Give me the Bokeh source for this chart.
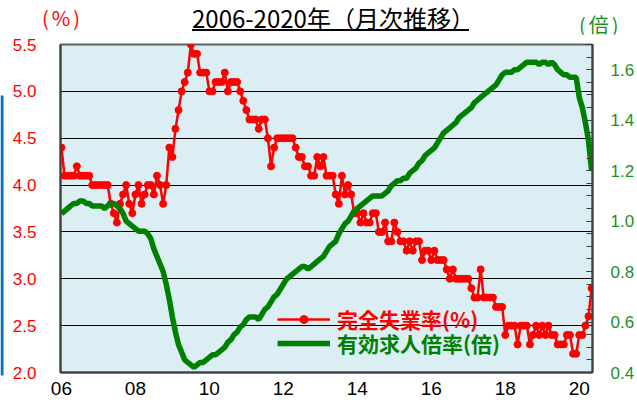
from bokeh.plotting import figure
from bokeh.models import (Range1d, LinearAxis, FixedTicker, BoxAnnotation,
                          Legend, LegendItem, NumeralTickFormatter, Div)
from bokeh.layouts import column, row
from bokeh.embed import file_html
from bokeh.resources import INLINE

FONT = "Noto Sans CJK JP"

# ---- data: monthly, Jan 2006 .. May 2020 ----
unemployment_rate = [
    4.4, 4.1, 4.1, 4.1, 4.1, 4.2, 4.1, 4.1, 4.1, 4.1, 4.0, 4.0,   # 2006
    4.0, 4.0, 4.0, 4.0, 3.8, 3.7, 3.6, 3.8, 3.9, 4.0, 3.8, 3.7,   # 2007
    3.9, 4.0, 3.8, 3.9, 4.0, 4.0, 3.9, 4.1, 4.0, 3.8, 4.0, 4.4,   # 2008
    4.3, 4.6, 4.8, 5.0, 5.1, 5.2, 5.5, 5.4, 5.4, 5.2, 5.2, 5.2,   # 2009
    5.0, 5.0, 5.1, 5.1, 5.1, 5.2, 5.0, 5.1, 5.1, 5.1, 5.0, 4.9,   # 2010
    4.8, 4.7, 4.7, 4.7, 4.6, 4.7, 4.7, 4.5, 4.2, 4.4, 4.5, 4.5,   # 2011
    4.5, 4.5, 4.5, 4.5, 4.4, 4.3, 4.3, 4.2, 4.2, 4.1, 4.1, 4.3,   # 2012
    4.2, 4.3, 4.1, 4.1, 4.1, 3.9, 3.8, 4.1, 3.9, 4.0, 3.9, 3.7,   # 2013
    3.7, 3.6, 3.7, 3.6, 3.6, 3.7, 3.7, 3.5, 3.5, 3.6, 3.4, 3.4,   # 2014
    3.6, 3.5, 3.4, 3.4, 3.3, 3.4, 3.3, 3.4, 3.4, 3.2, 3.3, 3.3,   # 2015
    3.2, 3.3, 3.2, 3.2, 3.2, 3.1, 3.0, 3.1, 3.0, 3.0, 3.0, 3.0,   # 2016
    3.0, 2.9, 2.8, 2.8, 3.1, 2.8, 2.8, 2.8, 2.8, 2.7, 2.7, 2.7,   # 2017
    2.4, 2.5, 2.5, 2.5, 2.3, 2.5, 2.5, 2.5, 2.3, 2.4, 2.5, 2.4,   # 2018
    2.5, 2.4, 2.5, 2.4, 2.4, 2.3, 2.3, 2.3, 2.4, 2.4, 2.2, 2.2,   # 2019
    2.4, 2.4, 2.5, 2.6, 2.9,                                      # 2020
]

job_ratio = [
    1.03, 1.04, 1.05, 1.06, 1.07, 1.07, 1.08, 1.08, 1.07, 1.07, 1.06, 1.06,  # 2006
    1.06, 1.06, 1.05, 1.06, 1.07, 1.07, 1.06, 1.05, 1.03, 1.00, 0.99, 0.98,  # 2007
    0.97, 0.96, 0.96, 0.96, 0.95, 0.93, 0.89, 0.86, 0.83, 0.80, 0.75, 0.69,  # 2008
    0.62, 0.56, 0.51, 0.48, 0.45, 0.44, 0.43, 0.42, 0.43, 0.44, 0.44, 0.45,  # 2009
    0.46, 0.47, 0.47, 0.48, 0.49, 0.50, 0.52, 0.53, 0.55, 0.56, 0.58, 0.59,  # 2010
    0.61, 0.62, 0.62, 0.62, 0.61, 0.63, 0.65, 0.66, 0.68, 0.70, 0.71, 0.73,  # 2011
    0.75, 0.77, 0.78, 0.79, 0.80, 0.81, 0.82, 0.82, 0.81, 0.82, 0.83, 0.84,  # 2012
    0.85, 0.86, 0.88, 0.90, 0.91, 0.92, 0.95, 0.97, 0.99, 1.00, 1.02, 1.04,  # 2013
    1.05, 1.06, 1.07, 1.08, 1.09, 1.10, 1.10, 1.10, 1.10, 1.11, 1.12, 1.14,  # 2014
    1.15, 1.16, 1.16, 1.17, 1.17, 1.19, 1.20, 1.21, 1.23, 1.24, 1.26, 1.27,  # 2015
    1.28, 1.29, 1.31, 1.33, 1.35, 1.36, 1.37, 1.38, 1.39, 1.41, 1.42, 1.43,  # 2016
    1.44, 1.45, 1.47, 1.48, 1.49, 1.50, 1.51, 1.52, 1.53, 1.54, 1.56, 1.58,  # 2017
    1.59, 1.59, 1.59, 1.60, 1.60, 1.61, 1.62, 1.63, 1.63, 1.63, 1.63, 1.62,  # 2018
    1.63, 1.63, 1.62, 1.63, 1.62, 1.60, 1.59, 1.58, 1.58, 1.57, 1.57, 1.57,  # 2019
    1.49, 1.45, 1.39, 1.32, 1.20,                                            # 2020
]

months = list(range(len(unemployment_rate)))

x_tick_positions = [0, 24, 48, 72, 96, 120, 144, 168]
x_tick_labels = ["06", "08", "10", "12", "14", "16", "18", "20"]
left_ticks = [2.0, 2.5, 3.0, 3.5, 4.0, 4.5, 5.0, 5.5]
right_ticks = [0.4, 0.6, 0.8, 1.0, 1.2, 1.4, 1.6]
right_minor_ticks = [round(0.4 + 0.05 * i, 2) for i in range(27)]

title_text = "2006-2020年（月次推移）"
unemp_unit = "(%)"
ratio_unit = "(倍)"
unemp_label = "完全失業率(%)"
ratio_label = "有効求人倍率(倍)"

RED = "#FF0000"
GREEN = "#008000"
GREEN_TXT = "#1F8F1F"

# ---- left edge strip (blue bar) ----
strip = figure(width=4, height=403, output_backend="svg", toolbar_location=None,
               x_range=Range1d(0, 4), y_range=Range1d(403, 0),
               x_axis_type=None, y_axis_type=None,
               min_border=0, min_border_left=0, min_border_right=0,
               min_border_top=0, min_border_bottom=0)
strip.xgrid.visible = False
strip.ygrid.visible = False
strip.outline_line_color = None
strip.background_fill_color = "white"
strip.add_layout(BoxAnnotation(left=0, right=3, top=95, bottom=375,
                               fill_color="#0070C0", fill_alpha=1, line_alpha=0))

# ---- header: title and unit labels ----
span_css = "position:absolute;white-space:nowrap;font-family:'Noto Sans CJK JP';line-height:1;"
header_html = (
    '<div style="position:relative;width:633px;height:34px;">'
    f'<span style="{span_css}left:38px;top:8px;font-size:20px;letter-spacing:3px;color:{RED};">{unemp_unit}</span>'
    f'<span style="{span_css}left:188px;top:6px;font-size:24px;color:#000;">{title_text}</span>'
    '<div style="position:absolute;left:188px;top:29px;width:277px;height:2px;background:#000;"></div>'
    f'<span style="{span_css}left:575px;top:15px;font-size:20px;letter-spacing:3px;color:{GREEN_TXT};">{ratio_unit}</span>'
    '</div>'
)
head = Div(text=header_html, width=633, height=34, margin=0)

# ---- main chart ----
p = figure(width=633, height=369, output_backend="svg", toolbar_location=None,
           x_range=Range1d(-0.3, 172.3), y_range=Range1d(2.0, 5.5),
           min_border_left=56, min_border_right=45, min_border_top=10,
           min_border_bottom=31)
p.background_fill_color = "#DAEEF3"
p.border_fill_color = "white"
p.outline_line_color = "#606060"
p.outline_line_width = 2

p.extra_y_ranges = {"ratio": Range1d(0.4, 1.7)}

xa = p.xaxis[0]
xa.ticker = FixedTicker(ticks=x_tick_positions)
xa.major_label_overrides = dict(zip(x_tick_positions, x_tick_labels))
xa.major_label_text_font = "Liberation Sans"
xa.major_label_text_font_size = "19px"
xa.major_label_text_color = "black"
xa.major_label_standoff = 9
xa.major_tick_in = 0
xa.major_tick_out = 0
xa.minor_tick_in = 0
xa.minor_tick_out = 0
xa.axis_line_color = "#404040"
xa.axis_line_width = 2

ya = p.yaxis[0]
ya.ticker = FixedTicker(ticks=left_ticks)
ya.formatter = NumeralTickFormatter(format="0.0")
ya.major_label_text_font = "Liberation Sans"
ya.major_label_text_font_size = "17px"
ya.major_label_text_color = RED
ya.major_label_standoff = 24
ya.major_tick_in = 0
ya.major_tick_out = 0
ya.minor_tick_in = 0
ya.minor_tick_out = 0
ya.axis_line_color = "#404040"
ya.axis_line_width = 2

ra = LinearAxis(y_range_name="ratio",
                ticker=FixedTicker(ticks=right_ticks, minor_ticks=right_minor_ticks),
                formatter=NumeralTickFormatter(format="0.0"))
ra.major_label_text_font = "Liberation Sans"
ra.major_label_text_font_size = "17px"
ra.major_label_text_color = GREEN_TXT
ra.major_label_standoff = 18
ra.major_tick_in = 6
ra.major_tick_out = 0
ra.minor_tick_in = 6
ra.minor_tick_out = 0
ra.major_tick_line_color = "#404040"
ra.minor_tick_line_color = "#404040"
ra.axis_line_color = "#404040"
ra.axis_line_width = 2
p.add_layout(ra, "right")

p.xgrid.visible = False
p.ygrid.ticker = FixedTicker(ticks=left_ticks)
p.ygrid.grid_line_color = "black"
p.ygrid.grid_line_width = 1
p.ygrid.grid_line_alpha = 1

r_line = p.line(months, unemployment_rate, color=RED, line_width=2.5)
r_pts = p.scatter(months, unemployment_rate, size=7, color=RED)
g_line = p.line(months, job_ratio, y_range_name="ratio", color=GREEN, line_width=5.5)

for label, rends, col, loc in [
    (unemp_label, [r_line, r_pts], RED, (217, 38)),
    (ratio_label, [g_line], GREEN, (217, 14)),
]:
    lg = Legend(items=[LegendItem(label=label, renderers=rends)], location=loc,
                label_text_color=col, label_text_font_style="bold",
                label_text_font_size="21px", label_text_font=FONT,
                glyph_width=53, glyph_height=20, label_standoff=7,
                padding=0, margin=0, spacing=0,
                background_fill_alpha=0, border_line_alpha=0)
    p.add_layout(lg)

layout = row(strip, column(head, p, spacing=0), spacing=0)

open("out.html", "w").write(file_html(layout, INLINE))
